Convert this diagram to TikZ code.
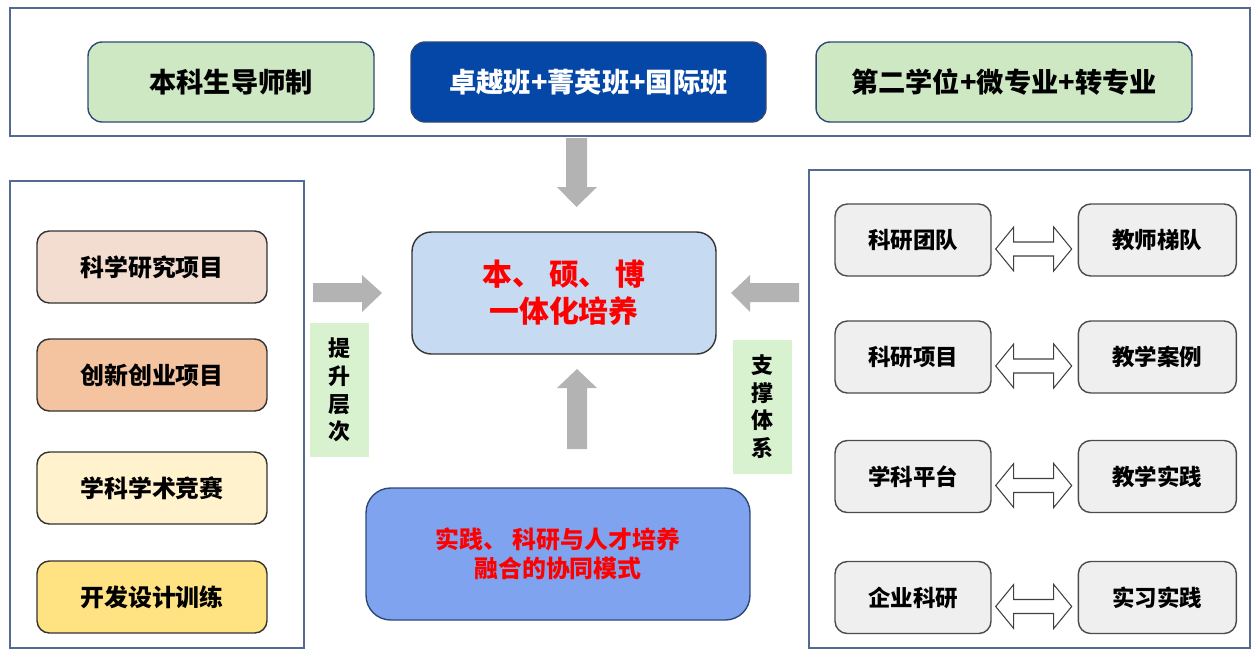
\documentclass[tikz,border=0pt]{standalone}
\usepackage{fontspec}
\newfontfamily\cjk{Noto Sans CJK SC}
\usetikzlibrary{positioning,calc}
\definecolor{framec}{RGB}{84,106,146}
\definecolor{navy}{RGB}{47,72,120}
\definecolor{topgreen}{RGB}{205,232,195}
\definecolor{topblue}{RGB}{4,71,166}
\definecolor{peach}{RGB}{243,221,208}
\definecolor{orange}{RGB}{244,195,160}
\definecolor{cream}{RGB}{255,242,204}
\definecolor{yellow}{RGB}{255,226,130}
\definecolor{taggreen}{RGB}{216,242,208}
\definecolor{midblue}{RGB}{198,218,242}
\definecolor{lowblue}{RGB}{127,163,238}
\definecolor{lightgray}{RGB}{239,239,239}
\definecolor{arrowgray}{RGB}{179,179,179}

\begin{document}
\begin{tikzpicture}[x=0.02cm,y=-0.02cm,
  frame/.style={draw=framec,line width=1pt,minimum width=#1,inner sep=0pt},
  topbox/.style={draw=navy,line width=0.8pt,rounded corners=8pt,minimum width=#1,minimum height=1.6cm,
    font=\cjk\bfseries\fontsize{15.5}{18}\selectfont},
  lbox/.style={draw=black!80,line width=0.8pt,rounded corners=7pt,fill=#1,minimum width=4.6cm,minimum height=1.44cm,
    font=\cjk\bfseries\fontsize{13.6}{16}\selectfont},
  rbox/.style={draw=black!70,line width=0.8pt,rounded corners=7pt,fill=lightgray,minimum width=#1,minimum height=1.44cm,
    font=\cjk\bfseries\fontsize{12.8}{15}\selectfont},
  tag/.style={fill=taggreen,minimum width=1.18cm,minimum height=2.68cm,align=center,
    font=\cjk\bfseries\fontsize{12.5}{15.7}\selectfont},
  blockarrow/.style={fill=arrowgray},
  dblarrow/.style={draw=black!75,fill=white,line width=0.6pt,line join=miter}]
  \useasboundingbox (0,0) rectangle (1260,664);

  % top row
  \node[frame=24.8cm,minimum height=2.56cm] (top) at (630,72) {};
  \node[topbox=5.72cm,fill=topgreen] (t1) at (231,82) {本科生导师制};
  \node[topbox=7.1cm,fill=topblue,text=white] (t2) at (588.5,82) {卓越班+菁英班+国际班};
  \node[topbox=7.52cm,fill=topgreen] (t3) at (1004,82) {第二学位+微专业+转专业};

  % left side
  \node[frame=5.88cm,minimum height=9.34cm] (left) at (157,414.5) {};
  \node[lbox=peach] (p1) at (152,267) {科学研究项目};
  \node[lbox=orange] (p2) at (152,375) {创新创业项目};
  \node[lbox=cream] (p3) at (152,488) {学科学术竞赛};
  \node[lbox=yellow] (p4) at (152,597) {开发设计训练};

  % centre
  \node[draw=black!80,line width=0.8pt,rounded corners=11pt,fill=midblue,minimum width=6.08cm,minimum height=2.44cm,
    align=center,text=red,font=\cjk\bfseries\fontsize{17}{21}\selectfont] (core) at (564,293) {本、 硕、 博\\一体化培养};
  \node[draw=navy,line width=0.8pt,rounded corners=14pt,fill=lowblue,minimum width=7.68cm,minimum height=2.64cm,
    align=center,text=red,font=\cjk\bfseries\fontsize{13.6}{16.4}\selectfont] (mode) at (558,554) {实践、 科研与人才培养\\融合的协同模式};
  \node[tag] (up) at (339.5,390) {提\\升\\层\\次};
  \node[tag] (sup) at (762.5,406.5) {支\\撑\\体\\系};

  % right side
  \node[frame=8.82cm,minimum height=9.56cm] (right) at (1029.5,409) {};
  \node[rbox=3.12cm] (l1) at (913,240) {科研团队};
  \node[rbox=3.12cm] (l2) at (913,357) {科研项目};
  \node[rbox=3.12cm] (l3) at (913,476.5) {学科平台};
  \node[rbox=3.12cm] (l4) at (913,597.5) {企业科研};
  \node[rbox=3.16cm] (r1) [right=1.72cm of l1] {教师梯队};
  \node[rbox=3.16cm] (r2) [right=1.72cm of l2] {教学案例};
  \node[rbox=3.16cm] (r3) [right=1.72cm of l3] {教学实践};
  \node[rbox=3.16cm] (r4) [right=1.72cm of l4] {实习实践};

  \foreach \i in {1,...,4}
    \draw[dblarrow] ($(l\i.east)+(4,9)$) -- ++(18,-22) -- ++(0,15) -- ++(40,0) -- ++(0,-15) -- ++(18,22)
      -- ++(-18,22) -- ++(0,-15) -- ++(-40,0) -- ++(0,15) -- cycle;

  % block arrows into the centre
  \fill[blockarrow] (566,138) -- (587,138) -- (587,187) -- (597,187) -- (576.5,207) -- (557,187) -- (566,187) -- cycle;
  \fill[blockarrow] (567,449) -- (587,449) -- (587,388) -- (597,388) -- (577,369) -- (557,388) -- (567,388) -- cycle;
  \fill[blockarrow] (313,283) -- (362,283) -- (362,275) -- (382,293) -- (362,312) -- (362,302) -- (313,302) -- cycle;
  \fill[blockarrow] (799,283) -- (750,283) -- (750,275) -- (731,293) -- (750,312) -- (750,302) -- (799,302) -- cycle;
\end{tikzpicture}
\end{document}
